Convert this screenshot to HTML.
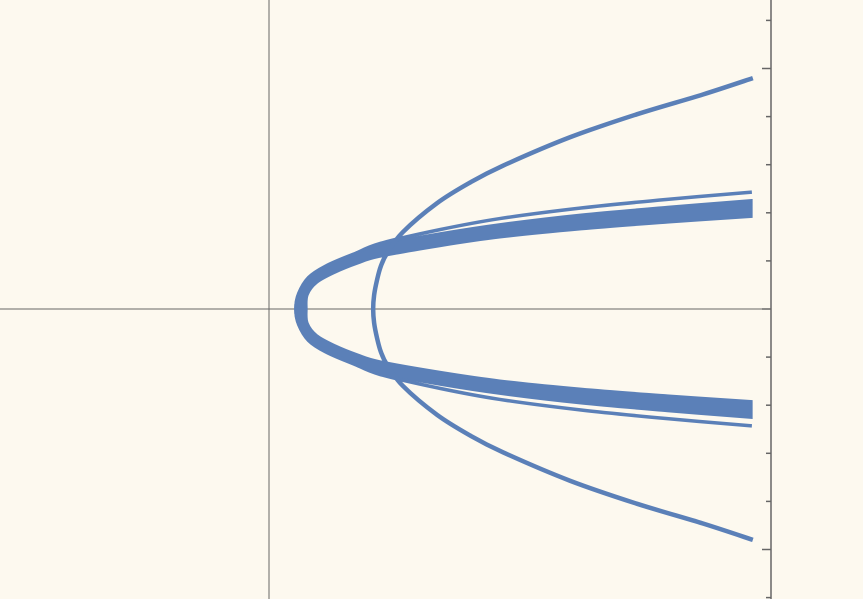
<!DOCTYPE html>
<html><head><meta charset="utf-8"><style>
html,body{margin:0;padding:0;background:#fdf9ef;}
svg{display:block;}
</style></head><body>
<svg id="chart" width="863" height="599" viewBox="0 0 863 599" xmlns="http://www.w3.org/2000/svg">
<rect width="863" height="599" fill="#fdf9ef"/>
<g id="axes"></g>
<g id="marks"></g>
</svg>
<script>
// data (upper half in data units; mirrored for lower half)
const outerX = [2.17,2.19,2.25,2.33,2.46,2.79,3.5,4.19,4.875,6.27,7.67,9.04,10.08];
const outerY = [0,0.29,0.60,0.89,1.16,1.6,2.2,2.63,2.98,3.57,4.05,4.46,4.8];
const bandTopX = [0.56,0.62,0.83,1.19,1.75,2.31,3.56,4.81,6.5,8.3,10.06];
const bandTopY = [0,0.32,0.64,0.88,1.13,1.36,1.65,1.88,2.10,2.28,2.43];
const bandHighX = [0.54,0.6,0.81,1.17,1.73,2.31,3.56,4.81,6.5,8.3,10.06];
const bandHighY = [0,0.33,0.67,0.91,1.15,1.35,1.58,1.77,1.97,2.13,2.27];
const bandLowX = [0.79,0.81,1.0,1.38,1.85,2.31,3.56,4.81,6.5,8.3,10.06];
const bandLowY = [0,0.29,0.54,0.75,0.94,1.08,1.3,1.48,1.65,1.79,1.91];
const yTicks = [6,5,4,3,2,1,0,-1,-2,-3,-4,-5,-6];
const yMajor = [5,0,-5];

const X0=269, Y0=309, UX=48, UY=48.1;
const sx = v => X0 + v*UX;
const sy = v => Y0 - v*UY;
const NS='http://www.w3.org/2000/svg';
const axes=document.getElementById('axes'), marks=document.getElementById('marks');
function mk(tag,attrs,parent){const e=document.createElementNS(NS,tag);for(const k in attrs)e.setAttribute(k,attrs[k]);parent.appendChild(e);return e;}

let e;
e=mk('line',{x1:sx(0),x2:sx(0),y1:0,y2:599,stroke:'#666',"stroke-width":1},axes);


e=mk('line',{x1:0,x2:771,y1:sy(0),y2:sy(0),stroke:'#666',"stroke-width":1},axes);


e=mk('line',{x1:771,x2:771,y1:0,y2:599,stroke:'#666',"stroke-width":1.5},axes);


yTicks.forEach(t=>{
  const len = yMajor.includes(t)?9:5;
  const tk=mk('line',{x1:771-len,x2:771,y1:sy(t),y2:sy(t),stroke:'#666',"stroke-width":1.5},axes);
  
  
});

function fullPts(xs,ys){
  const p=[];
  for(let i=xs.length-1;i>=0;i--) p.push([sx(xs[i]),sy(ys[i])]);
  for(let i=1;i<xs.length;i++) p.push([sx(xs[i]),sy(-ys[i])]);
  return p;
}
function smooth(p,start){
  let d=(start||'M')+p[0][0].toFixed(2)+','+p[0][1].toFixed(2);
  for(let i=0;i<p.length-1;i++){
    const p0=p[Math.max(i-1,0)],p1=p[i],p2=p[i+1],p3=p[Math.min(i+2,p.length-1)];
    const c1=[p1[0]+(p2[0]-p0[0])/6,p1[1]+(p2[1]-p0[1])/6];
    const c2=[p2[0]-(p3[0]-p1[0])/6,p2[1]-(p3[1]-p1[1])/6];
    d+=' C'+c1.map(v=>v.toFixed(2)).join(',')+' '+c2.map(v=>v.toFixed(2)).join(',')+' '+p2[0].toFixed(2)+','+p2[1].toFixed(2);
  }
  return d;
}
const col='#5b80b8';
const hi=fullPts(bandHighX,bandHighY), lo=fullPts(bandLowX,bandLowY).reverse();
const band=mk('path',{d:smooth(hi)+' '+smooth(lo,'L')+' Z',fill:col,stroke:col,"stroke-width":1.5},marks);


[[bandTopX,bandTopY,'band-top-curve',3.5],[outerX,outerY,'outer-curve',4.5]].forEach(([xs,ys,n,w])=>{
  const p=mk('path',{d:smooth(fullPts(xs,ys)),fill:'none',stroke:col,"stroke-width":w,"stroke-linejoin":'round'},marks);
  
  
});
</script>
</body></html>
